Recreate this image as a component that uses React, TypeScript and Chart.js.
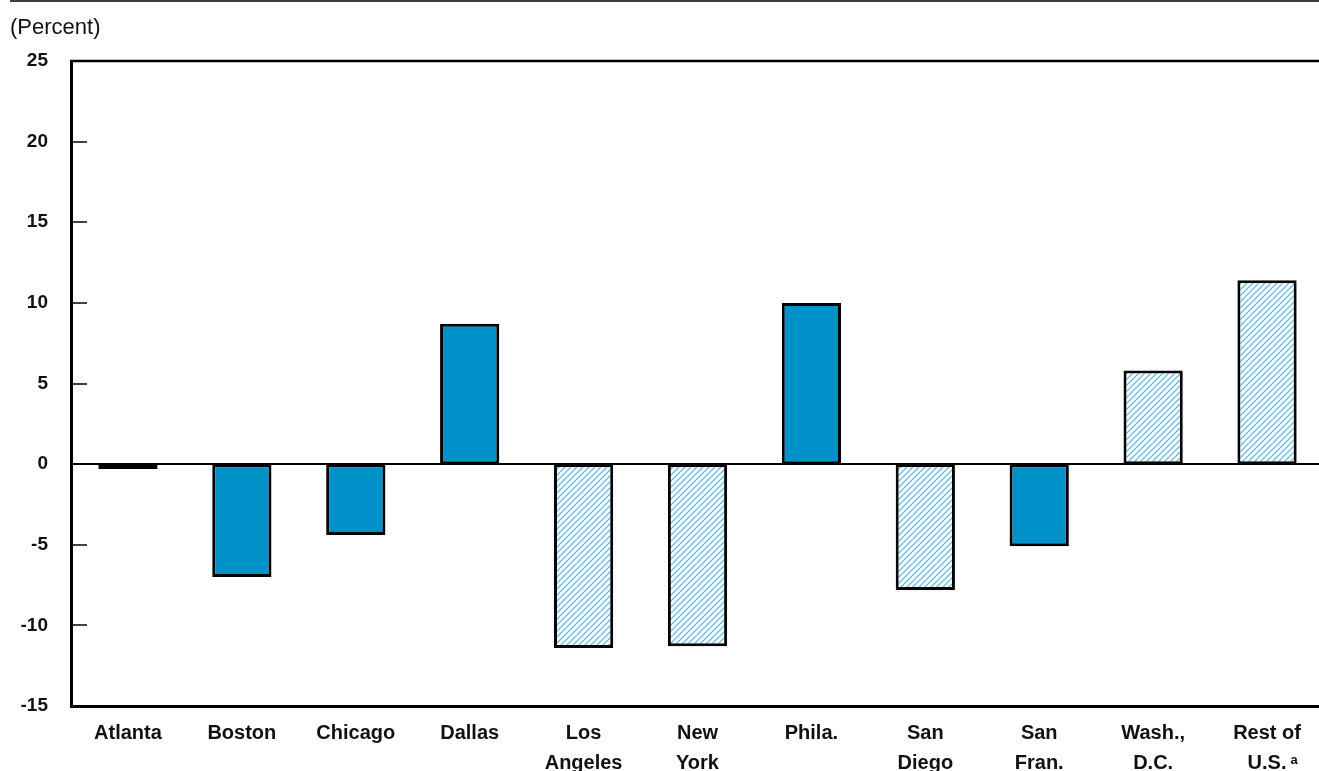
import React, { useEffect, useRef } from "react";
import { Chart, registerables } from "chart.js";

Chart.register(...registerables);

// Metro areas along the x axis (multi-line labels as arrays)
const categories: string[][] = [
  ["Atlanta"],
  ["Boston"],
  ["Chicago"],
  ["Dallas"],
  ["Los", "Angeles"],
  ["New", "York"],
  ["Phila."],
  ["San", "Diego"],
  ["San", "Fran."],
  ["Wash.,", "D.C."],
  ["Rest of", "U.S."],
];

// Percent change per area
const changePercent: number[] = [-0.3, -7.0, -4.4, 8.7, -11.4, -11.3, 10.0, -7.8, -5.1, 5.8, 11.4];

// Which bars use the hatched fill instead of the solid fill
const hatched: boolean[] = [false, false, false, false, true, true, false, true, false, true, true];

// Value axis
const yMin = -15;
const yMax = 25;
const yStep = 5;
const yTickValues: number[] = [25, 20, 15, 10, 5, 0, -5, -10, -15];

const unitLabel = "(Percent)";
const footnoteMark = "a";

const SOLID = "#0091c8";
const HATCH_LINE = "#4cb4e2";
const FONT = "'Liberation Sans', Arial, sans-serif";
const X_TICK_PAD = 12;
const X_LINE_HEIGHT = 30;

function makeHatch(): CanvasPattern | string {
  const c = document.createElement("canvas");
  c.width = 6;
  c.height = 6;
  const g = c.getContext("2d");
  if (!g) return HATCH_LINE;
  g.fillStyle = "#ffffff";
  g.fillRect(0, 0, 6, 6);
  g.strokeStyle = HATCH_LINE;
  g.lineWidth = 1.2;
  g.beginPath();
  g.moveTo(0, 6);
  g.lineTo(6, 0);
  g.moveTo(-1, 1);
  g.lineTo(1, -1);
  g.moveTo(5, 7);
  g.lineTo(7, 5);
  g.stroke();
  const p = g.createPattern(c, "repeat");
  return p || HATCH_LINE;
}

const framePlugin = {
  id: "frameDecor",
  beforeDraw(chart: any) {
    const ctx: CanvasRenderingContext2D = chart.ctx;
    ctx.save();
    ctx.strokeStyle = "#000";
    ctx.lineWidth = 1.5;
    ctx.beginPath();
    ctx.moveTo(10, 1);
    ctx.lineTo(chart.width, 1);
    ctx.stroke();
    ctx.fillStyle = "#111";
    ctx.font = `22px ${FONT}`;
    ctx.textBaseline = "middle";
    ctx.textAlign = "left";
    ctx.fillText(unitLabel, 10, 28);
    ctx.restore();
  },
  afterDatasetsDraw(chart: any) {
    const ctx: CanvasRenderingContext2D = chart.ctx;
    const a = chart.chartArea;
    const ys = chart.scales.y;
    const xs = chart.scales.x;
    const line = (x1: number, y1: number, x2: number, y2: number) => {
      ctx.beginPath();
      ctx.moveTo(x1, y1);
      ctx.lineTo(x2, y2);
      ctx.stroke();
    };
    ctx.save();
    ctx.strokeStyle = "#000";
    // zero line
    ctx.lineWidth = 2;
    const y0 = Math.round(ys.getPixelForValue(0));
    line(a.left, y0, a.right, y0);
    // top frame line
    ctx.lineWidth = 2.5;
    line(a.left - 1, a.top, a.right, a.top);
    // tick marks inside the plot
    ctx.lineWidth = 1.5;
    yTickValues.forEach((v) => {
      const py = Math.round(ys.getPixelForValue(v));
      line(a.left, py, a.left + 16, py);
    });
    // footnote mark on the last category label
    const last = categories.length - 1;
    const lines = categories[last];
    const cx = xs.getPixelForValue(last);
    ctx.font = `bold 20px ${FONT}`;
    const w = ctx.measureText(lines[lines.length - 1]).width;
    const lineMid = xs.top + X_TICK_PAD + X_LINE_HEIGHT * (lines.length - 0.5);
    ctx.fillStyle = "#111";
    ctx.font = `bold 13px ${FONT}`;
    ctx.textAlign = "left";
    ctx.textBaseline = "top";
    ctx.fillText(footnoteMark, cx + w / 2 + 4, lineMid - 9);
    ctx.restore();
  },
};

export default function App() {
  const canvasRef = useRef<HTMLCanvasElement | null>(null);

  useEffect(() => {
    document.body.style.margin = "0";
    document.body.style.overflow = "hidden";
    const canvas = canvasRef.current;
    if (!canvas) return;
    const hatch = makeHatch();
    const fills = hatched.map((h) => (h ? hatch : SOLID));

    const chart = new Chart(canvas, {
      type: "bar",
      data: {
        labels: categories,
        datasets: [
          {
            data: changePercent,
            backgroundColor: fills as any,
            borderColor: "#000",
            borderWidth: 3,
            borderSkipped: false,
            barPercentage: 0.52,
            categoryPercentage: 1,
          },
        ],
      },
      plugins: [framePlugin],
      options: {
        animation: false,
        responsive: false,
        devicePixelRatio: 1,
        layout: { padding: { top: 61, left: 0, right: 0, bottom: 0 } },
        plugins: {
          legend: { display: false },
          tooltip: { enabled: false },
        },
        scales: {
          x: {
            offset: true,
            grid: { display: false, drawTicks: false },
            border: { display: true, color: "#000", width: 3 },
            ticks: {
              color: "#111",
              padding: X_TICK_PAD,
              maxRotation: 0,
              autoSkip: false,
              font: { family: FONT, size: 20, weight: "bold", lineHeight: X_LINE_HEIGHT / 20 },
            },
            afterFit(scale: any) {
              scale.height = 65;
            },
          },
          y: {
            min: yMin,
            max: yMax,
            grid: { display: false, drawTicks: false },
            border: { display: true, color: "#000", width: 3 },
            ticks: {
              stepSize: yStep,
              color: "#111",
              padding: 23,
              font: { family: FONT, size: 19, weight: "bold" },
            },
            afterFit(scale: any) {
              scale.width = 71;
            },
          },
        },
      },
    });
    return () => chart.destroy();
  }, []);

  return (
    <div style={{ width: 1319, height: 771, overflow: "hidden", position: "relative", background: "#fff" }}>
      <canvas ref={canvasRef} width={1324} height={771} style={{ display: "block" }} />
    </div>
  );
}
